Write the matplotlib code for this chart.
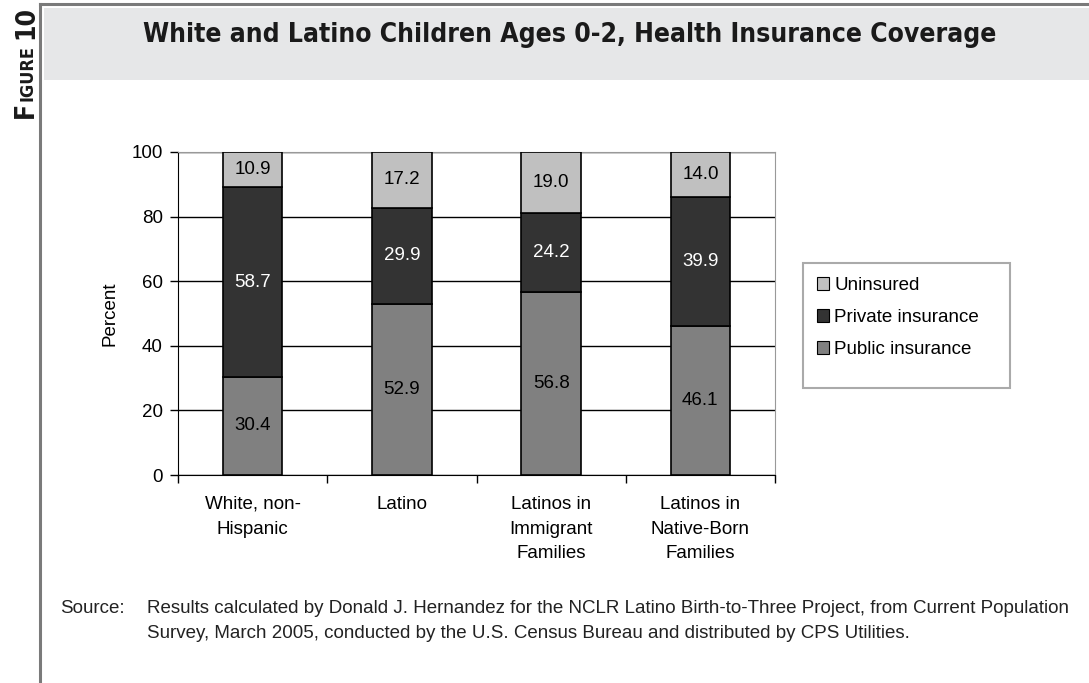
import numpy as np
import matplotlib.pyplot as plt
from matplotlib.patches import Rectangle
from matplotlib.lines import Line2D

categories = ["White, non-\nHispanic", "Latino", "Latinos in\nImmigrant\nFamilies",
              "Latinos in\nNative-Born\nFamilies"]
public = [30.4, 52.9, 56.8, 46.1]
private = [58.7, 29.9, 24.2, 39.9]
uninsured = [10.9, 17.2, 19.0, 14.0]

series = [
    ("Public insurance", public, "#808080", "black"),
    ("Private insurance", private, "#333333", "white"),
    ("Uninsured", uninsured, "#c0c0c0", "black"),
]

W, H = 1089, 683
FS = 13.5


def px(x, y):
    # pixel position (from top-left) to figure fraction
    return x / W, 1 - y / H


def main():
    fig = plt.figure(figsize=(W / 100, H / 100), dpi=100)
    fig.patch.set_facecolor("white")

    # page furniture: frame lines and grey title band
    fig.add_artist(Line2D([40 / W, 40 / W], [0, 1 - 4 / H], color="#7a7a7a", lw=2.2))
    fig.add_artist(Line2D([40 / W, 1], [1 - 4 / H, 1 - 4 / H], color="#7a7a7a", lw=2.2))
    fig.add_artist(Rectangle(px(44, 80), (W - 44) / W, 72 / H, facecolor="#e6e7e8",
                             edgecolor="none", transform=fig.transFigure))

    cond = dict(family="DejaVu Sans", fontstretch="condensed", fontweight="bold",
                color="#1a1a1a")
    fig.text(*px(570, 35), "White and Latino Children Ages 0-2, Health Insurance Coverage",
             ha="center", va="center", fontsize=19, **cond)

    # "FIGURE 10" in small caps, running up the left margin
    fig.canvas.draw()
    r = fig.canvas.get_renderer()
    ypos = 118
    for piece, size, gap in [("F", 19, 1), ("IGURE", 13, 6), ("10", 19, 0)]:
        t = fig.text(*px(33, ypos), piece, rotation=90, rotation_mode="anchor",
                     ha="left", va="baseline", fontsize=size, **cond)
        ext = t.get_window_extent(r)
        ypos -= ext.height + gap

    ax = fig.add_axes([178 / W, 1 - 475 / H, 597 / W, 323 / H])
    x = np.arange(len(categories))
    bottom = np.zeros(len(categories))
    handles = {}
    for name, vals, col, tcol in series:
        vals = np.array(vals)
        bars = ax.bar(x, vals, width=0.4, bottom=bottom, color=col, edgecolor="black",
                      linewidth=1.2, zorder=3, label=name)
        handles[name] = bars
        for xi, b, v in zip(x, bottom, vals):
            ax.text(xi, b + v / 2, f"{v:.1f}", ha="center", va="center", fontsize=FS,
                    color=tcol, family="Liberation Sans", zorder=4)
        bottom += vals

    ax.set_xlim(-0.5, len(categories) - 0.5)
    ax.set_ylim(0, 100)
    ax.set_yticks([0, 20, 40, 60, 80, 100])
    ax.set_xticks(np.arange(len(categories) + 1) - 0.5, minor=False)
    ax.set_xticklabels([])
    ax.set_xticks(x, minor=True)
    ax.set_xticklabels(categories, minor=True, fontsize=FS, family="Liberation Sans",
                       linespacing=1.6, va="top")
    ax.tick_params(axis="x", which="minor", length=0, pad=15)
    ax.tick_params(axis="x", which="major", direction="out", length=6, width=1)
    ax.tick_params(axis="y", direction="out", length=6, width=1, pad=5, labelsize=FS)
    for lab in ax.get_yticklabels():
        lab.set_family("Liberation Sans")
    ax.yaxis.grid(True, color="black", linewidth=1.0, zorder=0)
    ax.set_axisbelow(True)
    ax.spines["left"].set_color("black")
    ax.spines["bottom"].set_color("black")
    ax.spines["top"].set_color("#999999")
    ax.spines["right"].set_color("#999999")
    ax.set_ylabel("Percent", fontsize=FS, family="Liberation Sans", labelpad=9)

    # legend box is a little taller than its entries
    fig.add_artist(Rectangle(px(803, 388), 207 / W, 125 / H, facecolor="white",
                             edgecolor="#aaaaaa", linewidth=1.5, transform=fig.transFigure))
    order = ["Uninsured", "Private insurance", "Public insurance"]
    leg = fig.legend([handles[n] for n in order], order, loc="upper left",
                     bbox_to_anchor=px(805, 265), frameon=False,
                     handlelength=0.65, handleheight=0.65,
                     handletextpad=0.25, labelspacing=0.8, borderpad=0.65,
                     borderaxespad=0,
                     prop={"family": "Liberation Sans", "size": FS})
    for h in leg.legend_handles:
        h.set_linewidth(0.8)

    src = dict(ha="left", va="top", fontsize=FS, family="Liberation Sans",
               color="#222222", linespacing=1.6)
    fig.text(*px(60, 600), "Source:", **src)
    fig.text(*px(147, 600),
             "Results calculated by Donald J. Hernandez for the NCLR Latino Birth-to-Three Project, from Current Population\n"
             "Survey, March 2005, conducted by the U.S. Census Bureau and distributed by CPS Utilities.",
             **src)

    fig.savefig("out.png", dpi=100)


if __name__ == "__main__":
    main()
